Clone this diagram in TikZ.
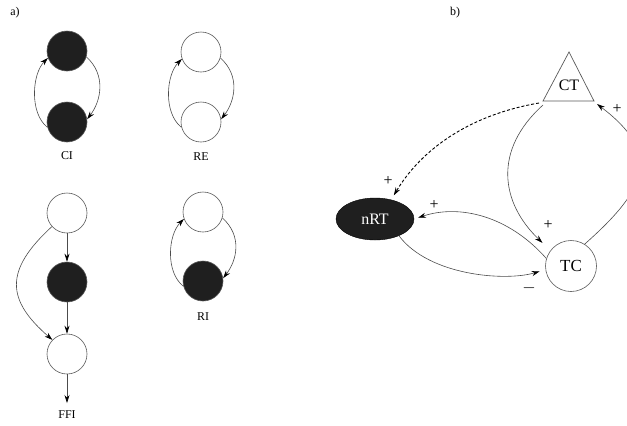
\documentclass[tikz,border=0pt]{standalone}
\usepackage{fontspec}
\setmainfont{Liberation Serif}
\usetikzlibrary{arrows.meta,shapes.geometric}
\begin{document}
\begin{tikzpicture}[x=1bp,y=-1bp,
  cell/.style={circle,draw=gray!70!black,line width=0.6bp,minimum size=40bp,inner sep=0pt},
  full/.style={cell,fill=black!88},
  arr/.style={draw=gray!60!black,line width=0.6bp,-{Stealth[length=8bp,width=5bp,color=black]}},
  dasharr/.style={draw=black,line width=0.9bp,densely dashed,-{Stealth[length=8bp,width=5bp,color=black]}},
  lab/.style={font=\fontsize{12}{14}\selectfont,inner sep=0pt},
  big/.style={font=\fontsize{16}{18}\selectfont,inner sep=0pt},
  sign/.style={font=\fontsize{16}{18}\selectfont,inner sep=0pt}]
\clip (0,0) rectangle (627,425);
\useasboundingbox (0,0) rectangle (627,425);
% ---------- panel a ----------
\node[lab] (la) at (15,13) {a)};
% CI
\node[full] (ci1) at (67,51) {};
\node[full] (ci2) at (67,122) {};
\node[lab] (lci) at (67,156) {CI};
\draw[arr] (ci1.-17) .. controls +(20,18) and +(14,-18) .. (ci2.8);
\draw[arr] (ci2.195) .. controls +(-18,-14) and +(-16,16) .. (ci1.200);
% RE
\node[cell] (re1) at (201,52) {};
\node[cell] (re2) at (201,122) {};
\node[lab] (lre) at (201,157) {RE};
\draw[arr] (re1.-17) .. controls +(20,18) and +(14,-18) .. (re2.8);
\draw[arr] (re2.195) .. controls +(-18,-14) and +(-16,16) .. (re1.200);
% RI
\node[cell] (ri1) at (203,212) {};
\node[full] (ri2) at (203,281) {};
\node[lab] (lri) at (203,317) {RI};
\draw[arr] (ri1.-17) .. controls +(20,18) and +(14,-18) .. (ri2.8);
\draw[arr] (ri2.195) .. controls +(-18,-14) and +(-16,16) .. (ri1.200);
% FFI
\node[cell] (ff1) at (67,213) {};
\node[full] (ff2) at (67,282) {};
\node[cell] (ff3) at (67,354) {};
\coordinate (ffo) at (67,403);
\node[lab] (lff) at (67,415) {FFI};
\draw[arr] (ff1) -- (ff2);
\draw[arr] (ff2) -- (ff3);
\draw[arr] (ff3) -- (ffo);
\draw[arr] (ff1.222) .. controls +(-48,44) and +(-46,-40) .. (ff3.136);
% ---------- panel b ----------
\node[lab] (lb) at (455,13) {b)};
\coordinate (cta) at (569,52);
\coordinate (ctl) at (543,101);
\coordinate (ctr) at (594,101);
\draw[draw=gray!70!black,line width=0.7bp] (cta) -- (ctr) -- (ctl) -- cycle;
\node[big] (ct) at (569,85) {CT};
\coordinate (ctdl) at (539,103);
\coordinate (ctdm) at (543,105);
\coordinate (ctdr) at (597,104);
\node[ellipse,fill=black!88,draw=black,minimum width=78bp,minimum height=42bp,inner sep=0pt,
      text=white,font=\fontsize{16}{18}\selectfont] (nrt) at (375,219) {nRT};
\node[cell,minimum size=51bp,font=\fontsize{17}{19}\selectfont] (tc) at (571,266) {TC};
% connectors
\draw[dasharr,shorten >=5bp] (ctdl) .. controls +(-70,12) and +(30,-50) .. (nrt.50);
\node[sign] (p1) at (388,181) {+};
\draw[arr,shorten >=11bp] (ctdm) .. controls +(-50,45) and +(-50,-48) .. (tc.143);
\node[sign] (p2) at (548,225) {+};
\draw[arr,shorten >=4bp] (tc.163) .. controls +(-38,-43) and +(45,-15) .. (nrt.east);
\node[sign] (p3) at (434,205) {+};
\draw[arr,shorten >=6bp] (nrt.-35) .. controls +(30,40) and +(-40,12) .. (tc.188);
\node[sign] (m1) at (529,288) {$-$};
\draw[arr] (tc.58) .. controls +(62,-55) and +(66,50) .. (ctdr);
\node[sign] (p4) at (617,109) {+};
\end{tikzpicture}
\end{document}
